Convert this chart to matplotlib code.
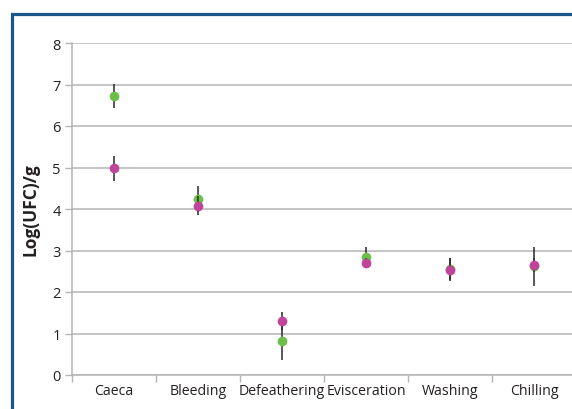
import matplotlib
matplotlib.use("Agg")
import matplotlib.pyplot as plt
from matplotlib.patches import Rectangle
import numpy as np

# Sampling stages along the processing line
stages = ["Caeca", "Bleeding", "Defeathering", "Evisceration", "Washing", "Chilling"]

# Mean counts (log CFU/g) and their error half-widths for each series
green_mean = [6.72, 4.24, 0.83, 2.84, 2.56, 2.62]
green_err = [0.29, 0.31, 0.48, 0.25, 0.26, 0.47]
magenta_mean = [4.98, 4.08, 1.30, 2.69, 2.54, 2.65]
magenta_err = [0.30, 0.23, 0.21, 0.12, 0.27, 0.17]

y_ticks = [0, 1, 2, 3, 4, 5, 6, 7, 8]

plt.rcParams["font.family"] = ["Open Sans", "DejaVu Sans"]
text_color = "#231f20"
grid_color = "#b4b4b4"

fig = plt.figure(figsize=(5.72, 4.10), dpi=100)
ax = fig.add_axes([72 / 572, 1 - 376 / 410, 504 / 572, 332 / 410])

x = np.arange(len(stages))
ax.errorbar(x, green_mean, yerr=green_err, fmt="o", color="#6cc04a", ms=7,
            mec="none", ecolor="#2a2a2a", elinewidth=1.1, capsize=0, zorder=3)
ax.errorbar(x, magenta_mean, yerr=magenta_err, fmt="o", color="#c1449b", ms=7,
            mec="none", ecolor="#2a2a2a", elinewidth=1.1, capsize=0, zorder=4)

ax.set_xlim(-0.5, len(stages) - 0.5)
ax.set_ylim(0, 8)
ax.set_yticks(y_ticks)
ax.set_yticklabels([str(v) for v in y_ticks], fontsize=10.5, color=text_color)
ax.set_xticks(x)
ax.set_xticklabels(stages, fontsize=10.2, color=text_color)
ax.set_xticks(np.arange(-0.5, len(stages), 1.0), minor=True)
ax.tick_params(axis="x", which="major", length=0, pad=6)
ax.tick_params(axis="x", which="minor", length=5, color=grid_color, width=1)
ax.tick_params(axis="y", length=5, color=grid_color, width=1, pad=3)

ax.grid(axis="y", color=grid_color, linewidth=1.1, zorder=0)
ax.set_axisbelow(True)
for side in ["top", "right"]:
    ax.spines[side].set_visible(False)
for side in ["left", "bottom"]:
    ax.spines[side].set_color(grid_color)
    ax.spines[side].set_linewidth(1.1)

ax.set_ylabel("Log(UFC)/g", fontsize=12.5, fontweight="bold", color=text_color,
              labelpad=9)

# Blue frame around the panel
frame = Rectangle((11.5 / 572, -0.2), 1.2, (410 - 14.5) / 410 + 0.2,
                  transform=fig.transFigure, fill=False, edgecolor="#1b578a",
                  linewidth=2.3, clip_on=False)
fig.patches.append(frame)

fig.savefig("out.png", dpi=100)
